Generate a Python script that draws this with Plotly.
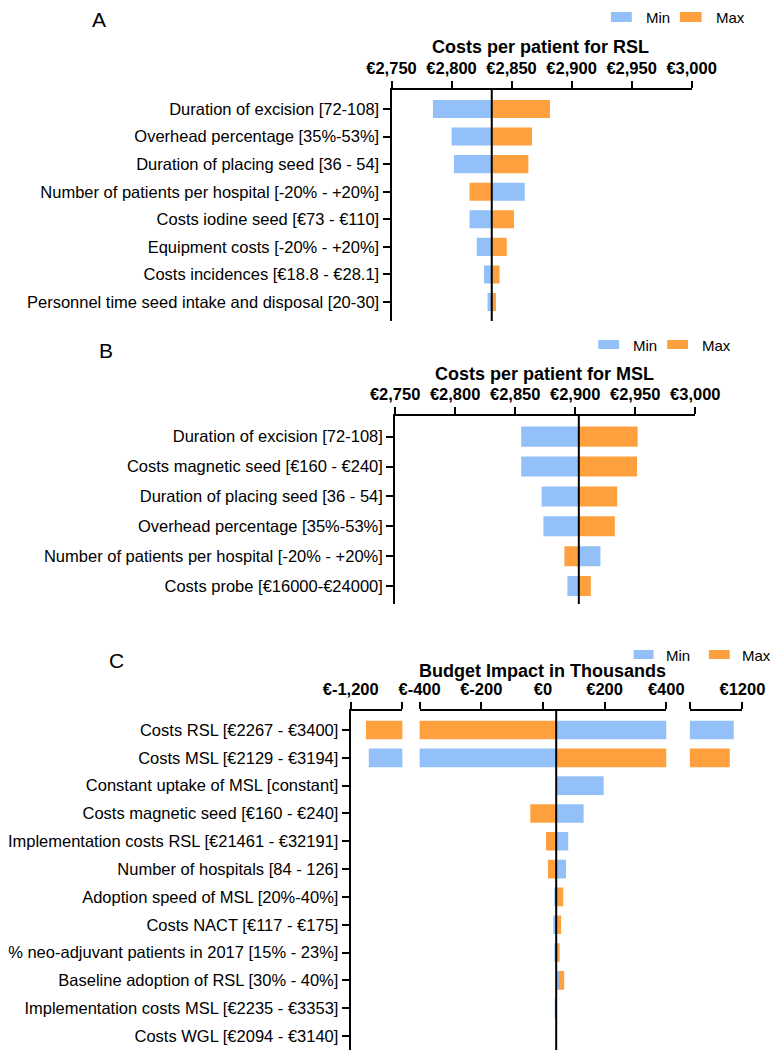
import plotly.graph_objects as go

W, H = 783, 1050

# ---- data ----
a_labels = ["Duration of excision [72-108]", "Overhead percentage [35%-53%]",
            "Duration of placing seed [36 - 54]", "Number of patients per hospital [-20% - +20%]",
            "Costs iodine seed [€73 - €110]", "Equipment costs [-20% - +20%]",
            "Costs incidences [€18.8 - €28.1]", "Personnel time seed intake and disposal [20-30]"]
a_base = 2833.5
a_min = [2784.5, 2800, 2802, 2861, 2815, 2821, 2827, 2830]
a_max = [2882, 2867, 2864, 2815, 2852, 2846, 2840, 2837]
a_ticks = [2750, 2800, 2850, 2900, 2950, 3000]

b_labels = ["Duration of excision [72-108]", "Costs magnetic seed [€160 - €240]",
            "Duration of placing seed [36 - 54]", "Overhead percentage [35%-53%]",
            "Number of patients per hospital [-20% - +20%]", "Costs probe [€16000-€24000]"]
b_base = 2903
b_min = [2855, 2855, 2872, 2873.5, 2921, 2893.5]
b_max = [2952, 2951.5, 2935, 2933, 2891, 2913]
b_ticks = [2750, 2800, 2850, 2900, 2950, 3000]

c_labels = ["Costs RSL [€2267 - €3400]", "Costs MSL [€2129 - €3194]",
            "Constant uptake of MSL [constant]", "Costs magnetic seed [€160 - €240]",
            "Implementation costs RSL [€21461 - €32191]", "Number of hospitals [84 - 126]",
            "Adoption speed of MSL [20%-40%]", "Costs NACT [€117 - €175]",
            "% neo-adjuvant patients in 2017 [15% - 23%]", "Baseline adoption of RSL [30% - 40%]",
            "Implementation costs MSL [€2235 - €3353]", "Costs WGL [€2094 - €3140]"]
c_base = 43
c_min = [1167, -1130, 197, 132, 82, 75, 37, 34, 37, 52, 39, 43]
c_max = [-1141, 1152, 43, -41, 10, 16, 66, 59, 54, 69, 43, 43]
c_left_ticks = [-1200, -1000]
c_left_text = ["€-1,200", ""]
c_mid_ticks = [-400, -200, 0, 200, 400]
c_mid_text = ["€-400", "€-200", "€0", "€200", "€400"]
c_right_ticks = [1000, 1200]
c_right_text = ["", "€1200"]

BLUE = "#93C0F8"
ORANGE = "#FFA03F"
FONT = "Liberation Sans, Arial, sans-serif"


def px(x):
    return x / W


def py(y):
    return 1 - y / H


fig = go.Figure()


def add_bars(labels, mins, maxs, base, xa, ya, width):
    # orange first so that blue sits on top where they overlap
    fig.add_trace(go.Bar(y=labels, x=[v - base for v in maxs], base=base, orientation="h",
                         marker=dict(color=ORANGE, line=dict(width=0)), width=width,
                         xaxis=xa, yaxis=ya, showlegend=False))
    fig.add_trace(go.Bar(y=labels, x=[v - base for v in mins], base=base, orientation="h",
                         marker=dict(color=BLUE, line=dict(width=0)), width=width,
                         xaxis=xa, yaxis=ya, showlegend=False))


add_bars(a_labels, a_min, a_max, a_base, "x", "y", 0.655)
add_bars(b_labels, b_min, b_max, b_base, "x2", "y2", 0.67)
add_bars(c_labels, c_min, c_max, c_base, "x3", "y3", 0.67)
add_bars(c_labels, c_min, c_max, c_base, "x4", "y3", 0.67)
add_bars(c_labels, c_min, c_max, c_base, "x5", "y3", 0.67)

catfont = dict(family=FONT, size=16.5, color="black")


def xax(dom, rng, tv, tt, anchor):
    return dict(domain=[px(dom[0]), px(dom[1])], range=rng, side="top", anchor=anchor,
                tickvals=tv, ticktext=tt, showline=True, linecolor="black", linewidth=2,
                ticks="outside", ticklen=7, tickwidth=2, tickcolor="black",
                showgrid=False, zeroline=False,
                tickfont=dict(family=FONT, size=16.5, color="black", weight="bold"))


def yax(top, bottom, rng, anchor):
    return dict(domain=[py(bottom), py(top)], range=rng, anchor=anchor, type="category",
                showline=True, linecolor="black", linewidth=2, ticks="outside", ticklen=7,
                tickwidth=2, tickcolor="black", showgrid=False, zeroline=False, tickfont=catfont)


a_tt = ["€{:,}".format(v) for v in a_ticks]
b_tt = ["€{:,}".format(v) for v in b_ticks]

fig.update_layout(
    width=W, height=H, margin=dict(l=0, r=0, t=0, b=0),
    paper_bgcolor="white", plot_bgcolor="white", barmode="overlay", showlegend=False,
    font=dict(family=FONT, color="black"),
    xaxis=xax((370, 701), [2750, 3000], a_ticks, a_tt, "y"),
    yaxis=yax(82, 313, [7.69, -0.69], "x"),
    xaxis2=xax((374, 705), [2750, 3000], b_ticks, b_tt, "y2"),
    yaxis2=yax(408, 596, [5.6, -0.69], "x2"),
    xaxis3=xax((325, 382), [-1200, -1000], c_left_ticks, c_left_text, "y3"),
    xaxis4=xax((401, 673), [-400, 400], c_mid_ticks, c_mid_text, "y3"),
    xaxis5=xax((699, 757), [1000, 1200], c_right_ticks, c_right_text, "y3"),
    yaxis3=yax(703, 1047, [11.683, -0.683], "x3"),
)

# baseline lines
for xr, yr, b in [("x", "y", a_base), ("x2", "y2", b_base), ("x4", "y3", c_base)]:
    fig.add_shape(type="line", xref=xr, yref=yr + " domain", x0=b, x1=b, y0=0, y1=1,
                  line=dict(color="black", width=2))

# titles, panel letters, legends
panels = [
    ("A", 47, 11, "Costs per patient for RSL", 534, 39, (612, 635, 4, 14), 648, (688, 712), 726),
    ("B", 55, 342, "Costs per patient for MSL", 539, 366, (598, 621, 332, 341), 634, (674, 697), 710),
    ("C", 67, 652, "Budget Impact in Thousands", 536, 663, (637, 659, 642, 651), 671, (720, 743), 754),
]
for letter, lx, ly, title, tx, ty, mn, mtx, mx, mxt in panels:
    fig.add_annotation(text=letter, x=px(lx), y=py(ly), xref="paper", yref="paper",
                       xanchor="center", yanchor="middle",
                       showarrow=False, font=dict(family=FONT, size=21, color="black"))
    fig.add_annotation(text="<b>" + title + "</b>", x=px(tx), y=py(ty), xref="paper", yref="paper",
                       xanchor="center", yanchor="middle",
                       showarrow=False, font=dict(family=FONT, size=18, color="black"))
    fig.add_shape(type="rect", xref="paper", yref="paper", x0=px(mn[0]), x1=px(mn[1]),
                  y0=py(mn[3]), y1=py(mn[2]), fillcolor=BLUE, line=dict(width=0))
    fig.add_shape(type="rect", xref="paper", yref="paper", x0=px(mx[0]), x1=px(mx[1]),
                  y0=py(mn[3]), y1=py(mn[2]), fillcolor=ORANGE, line=dict(width=0))
    yc = py((mn[2] + mn[3]) / 2 + 1)
    fig.add_annotation(text="Min", x=px(mtx), y=yc, xref="paper", yref="paper",
                       xanchor="left", yanchor="middle",
                       showarrow=False, font=dict(family=FONT, size=15, color="black"))
    fig.add_annotation(text="Max", x=px(mxt), y=yc, xref="paper", yref="paper",
                       xanchor="left", yanchor="middle",
                       showarrow=False, font=dict(family=FONT, size=15, color="black"))

fig.write_html("out.html")
